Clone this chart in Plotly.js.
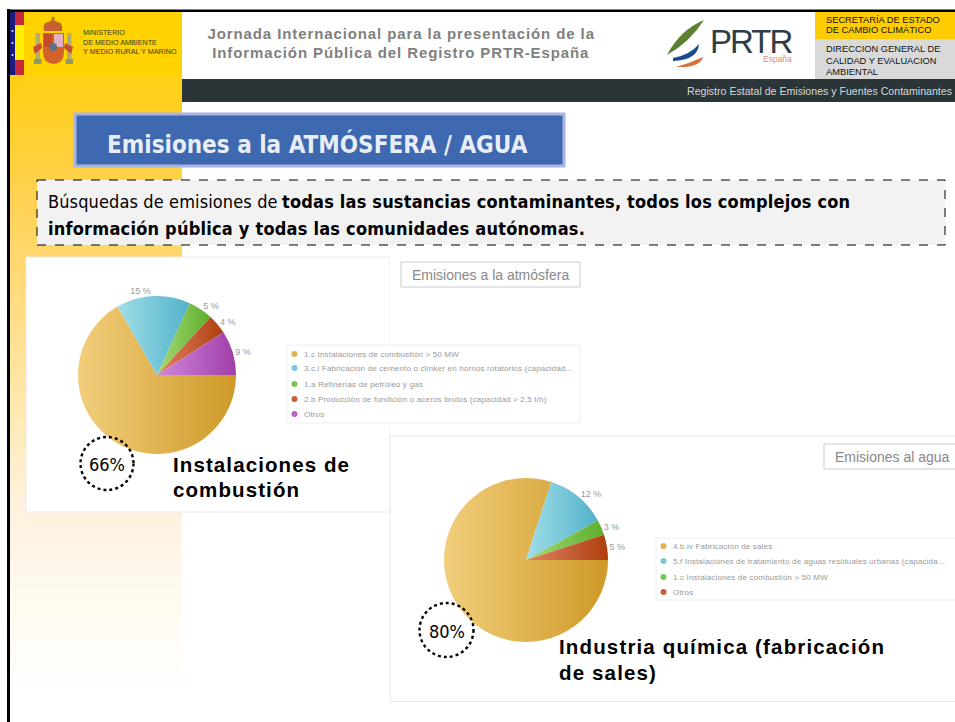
<!DOCTYPE html>
<html lang="es">
<head>
<meta charset="utf-8">
<title>Emisiones a la atmósfera / agua</title>
<script src="https://cdn.plot.ly/plotly-3.0.1.min.js"></script>
<style>html,body{margin:0;padding:0;background:#fff}#chart{width:955px;height:722px}</style>
</head>
<body>
<div id="chart"></div>
<script>
// ---------- data ----------
const airLabels = ["1.c Instalaciones de combustión > 50 MW","3.c.i Fabricación de cemento o clínker en hornos rotatorios (capacidad...","1.a Refinerías de petróleo y gas","2.b Producción de fundición o aceros brutos (capacidad > 2,5 t/h)","Otros"];
const airValues = [66, 15, 5, 4, 9];
const airColors = ["#E0B455","#78C8DA","#80C455","#C8603C","#B860C4"];
const airGradients = [["#F2CE7C","#CE9A28"],["#A0DEE8","#52B2CA"],["#A4DA74","#5EAE2E"],["#E28464","#AE3E0E"],["#D088DC","#A03EA8"]];

const waterLabels = ["4.b.iv Fabricación de sales","5.f Instalaciones de tratamiento de aguas residuales urbanas (capacida...","1.c Instalaciones de combustión > 50 MW","Otros"];
const waterValues = [80, 12, 3, 5];
const waterColors = ["#E0B455","#78C8DA","#80C455","#C8603C"];
const waterGradients = [["#F2CE7C","#CE9A28"],["#A0DEE8","#52B2CA"],["#A4DA74","#5EAE2E"],["#E28464","#AE3E0E"]];

const headerLines = ["Jornada Internacional para la presentación de la","Información Pública del Registro PRTR-España"];
const ministryLines = ["MINISTERIO","DE MEDIO AMBIENTE","Y MEDIO RURAL Y MARINO"];
const secretaryLines = ["SECRETARÍA DE ESTADO","DE CAMBIO CLIMÁTICO"];
const directionLines = ["DIRECCION GENERAL DE","CALIDAD Y EVALUACION","AMBIENTAL"];

// ---------- helpers: page pixels to paper coordinates ----------
const W = 955, H = 722;
const TAHOMA = "DejaVu Sans Condensed, Noto Sans, sans-serif";
const px = x => x / W, py = y => 1 - y / H;
const shapes = [], annotations = [], spacings = [];
function rect(x0,y0,x1,y1,fill,line,lw,dash,layer){
  shapes.push({type:"rect",xref:"paper",yref:"paper",x0:px(x0),x1:px(x1),y0:py(y0),y1:py(y1),layer:layer||"below",
    fillcolor:fill,line:{color:line||fill,width:line?(lw||1):0,dash:dash||"solid"}});
}
function circle(cx,cy,r,fill,line,lw,dash,layer){
  shapes.push({type:"circle",xref:"paper",yref:"paper",x0:px(cx-r),x1:px(cx+r),y0:py(cy+r),y1:py(cy-r),layer:layer||"above",
    fillcolor:fill,line:{color:line||fill,width:line?lw:0,dash:dash||"solid"}});
}
function path(points,fill,layer){
  const d = points.map(p => p[0] + p.slice(1).map((v,i)=> i%2===0 ? px(v) : py(v)).join(" ")).join(" ") + " Z";
  shapes.push({type:"path",xref:"paper",yref:"paper",path:d,fillcolor:fill,line:{width:0},layer:layer||"above"});
}
function text(x,y,t,size,color,opts){
  opts = opts||{};
  spacings.push(opts.spacing||0);
  annotations.push({xref:"paper",yref:"paper",x:px(x),y:py(y),text:t,showarrow:false,xanchor:opts.anchor||"left",yanchor:"middle",
    align:opts.anchor==="center"?"center":"left",borderpad:0,
    font:{family:opts.font||"Liberation Sans, Arial, sans-serif",size:size,color:color,weight:opts.weight||"normal"}});
}

// ---------- page background ----------
const gradStops = [[12,[255,210,0]],[100,[255,207,30]],[200,[255,210,85]],[300,[255,220,130]],[400,[255,232,175]],[500,[255,241,220]],[600,[255,251,240]],[700,[255,255,255]]];
function gradAt(y){
  for(let i=1;i<gradStops.length;i++){
    if(y<=gradStops[i][0]){
      const a=gradStops[i-1],b=gradStops[i],t=(y-a[0])/(b[0]-a[0]);
      return "rgb("+a[1].map((v,k)=>Math.round(v+(b[1][k]-v)*t)).join(",")+")";
    }
  }
  return "#fff";
}
for(let y=12;y<700;y+=6){ rect(10,y,182,y+6.5,gradAt(y)); }
rect(7,9,10,722,"#000");
rect(7,9.5,955,12,"#000");

// ---------- header ----------
rect(10,12,182,75,"#FFD200");
rect(10,12,15,75,"#1A1A80");
rect(15,12,24,25,"#C8283C");
rect(15,25,24,60,"#FFEE00");
rect(15,60,24,75,"#C8283C");
[31,43,55].forEach(y=>circle(12.5,y,1,"#EEE"));
// coat of arms
path([["M",44,31],["Q",42,22,49,22],["Q",53,18,57,22],["Q",63,22,62,31]],"#C8602C");
circle(53,18.5,2,"#B88A20");
path([["M",43,33],["L",64,33],["L",64,52],["Q",64,63,53.5,64],["Q",43,63,43,52]],"#D4602A");
rect(54,34,63,47,"#E2B0BE","","","","above");
rect(44,34,52,47,"#C84A28","","","","above");
circle(53,47,4,"#5E7288");
rect(35.5,33,40,60,"#B4AC70","","","","above");
rect(67,33,71.5,60,"#B4AC70","","","","above");
rect(34,59,41.5,64,"#8E9A60","","","","above");
rect(65.5,59,73,64,"#8E9A60","","","","above");
path([["M",33,47],["L",41,43],["L",42,48],["L",35,54]],"#C84A38");
path([["M",65,43],["L",73,47],["L",71,54],["L",64,48]],"#C84A38");
ministryLines.forEach((t,i)=>text(82,32.5+i*9.5,t,7.2,"#3A3A20"));

rect(182,79,955,102,"#2B3538");
text(953,91,"Registro Estatal de Emisiones y Fuentes Contaminantes",10.6,"#D4D8D8",{anchor:"right"});
headerLines.forEach((t,i)=>text(401,33+i*20,t,15,"#808080",{anchor:"center",weight:"bold",spacing:0.9}));

// PRTR logo
path([["M",667,55],["Q",680,30,704,20],["Q",690,42,667,55]],"#5A8030");
path([["M",673,58],["Q",690,55,699,44],["Q",698,60,673,61]],"#1C4A90");
path([["M",676,67],["Q",690,63,703,57],["Q",700,68,676,67]],"#D8703C");
text(709,41,"PRTR",33,"#2E3E46",{spacing:-2});
text(777,59,"España",8.5,"#E09070",{anchor:"center"});

// ministry boxes
rect(815,12,955,39,"#FFCC00");
rect(815,39,955,79,"#D9D9D9");
secretaryLines.forEach((t,i)=>text(825,19.5+i*11,t,9.3,"#111"));
directionLines.forEach((t,i)=>text(825,49.5+i*11,t,9.3,"#111"));

// ---------- title boxes ----------
rect(75,114,564,166,"#3E68B0","#A8B4E2",3);
text(105.5,144,"Emisiones a la ATMÓSFERA / AGUA",24,"#E8EEF6",{font:TAHOMA,weight:"bold"});

rect(37,180,945,245,"#F2F2F2","#000",1,"dash");
text(47,201,"Búsquedas de emisiones de",18,"#000",{font:TAHOMA,spacing:0.12});
text(281,201,"todas las sustancias contaminantes, todos los complejos con",18,"#000",{font:TAHOMA,weight:"bold",spacing:0.19});
text(47,229,"información pública y todas las comunidades autónomas.",18,"#000",{font:TAHOMA,weight:"bold",spacing:0.22});

// ---------- chart panels ----------
rect(26,257,390,512,"#FFF","#E8E8E8",1);
rect(390,257,581,436,"#FFF");
rect(390,436,960,701.5,"#FFF","#E8E8E8",1);

function panel(boxX0,boxY0,boxX1,boxY1,title,titleX,legX0,legY0,legX1,legY1,rows,labels,colors){
  rect(boxX0,boxY0,boxX1,boxY1,"#FFF","#CCCCCC",1);
  text(titleX,(boxY0+boxY1)/2,title,14,"#888");
  rect(legX0,legY0,legX1,legY1,"#FFF","#EEEEEE",1);
  labels.forEach((t,i)=>{
    circle(legX0+7.5,rows[i],3,colors[i]);
    text(legX0+16,rows[i],t,8,"#999",{spacing:0.17});
  });
}
panel(401,262,580,287,"Emisiones a la atmósfera",411,287,345,580,423,[354,368,384,399,414],airLabels,airColors);
panel(824,444,960,469,"Emisiones al agua",834,656,538,960,600,[546,561,577,592],waterLabels,waterColors);

// ---------- call-outs ----------
circle(107,463.5,26.5,"rgba(0,0,0,0)","#000",2.4,"dot");
text(107,465,"66%",18,"#000",{anchor:"center",font:TAHOMA});
text(172,464,"Instalaciones de",20.5,"#000",{weight:"bold",spacing:1.1});
text(172,490,"combustión",20.5,"#000",{weight:"bold",spacing:1.1});
circle(446.5,630,27,"rgba(0,0,0,0)","#000",2.4,"dot");
text(447,631,"80%",18,"#000",{anchor:"center",font:TAHOMA});
text(558,646,"Industria química (fabricación",20.5,"#000",{weight:"bold",spacing:1.15});
text(558,672,"de sales)",20.5,"#000",{weight:"bold",spacing:1.15});

// ---------- pies ----------
function pie(labels,values,colors,cx,cy,r){
  return {type:"pie",labels:labels,values:values,sort:false,direction:"clockwise",rotation:90,
    marker:{colors:colors,line:{width:0}},
    text:values.map((v,i)=>i===0?"":v+" %"),textinfo:"text",textposition:"outside",
    outsidetextfont:{family:"Liberation Sans, Arial, sans-serif",size:9,color:"#999"},
    hoverinfo:"label+value",automargin:false,showlegend:false,
    domain:{x:[px(cx-r),px(cx+r)],y:[py(cy+r),py(cy-r)]}};
}
const traces = [pie(airLabels,airValues,airColors,157,375,79),pie(waterLabels,waterValues,waterColors,526,560,82)];

const layout = {width:W,height:H,margin:{l:0,r:0,t:0,b:0,pad:0},paper_bgcolor:"#fff",plot_bgcolor:"#fff",
  showlegend:false,shapes:shapes,annotations:annotations,xaxis:{visible:false},yaxis:{visible:false}};

Plotly.newPlot("chart",traces,layout,{displayModeBar:false,staticPlot:true}).then(gd=>{
  const svg = gd.querySelector("svg.main-svg");
  const NS = "http://www.w3.org/2000/svg";
  const defs = document.createElementNS(NS,"defs");
  svg.insertBefore(defs,svg.firstChild);
  [airGradients,waterGradients].forEach((grads,t)=>{
    const traceEl = gd.querySelectorAll("g.trace")[t];
    traceEl.querySelectorAll("g.slice path.surface").forEach((p,i)=>{
      const id = "g"+t+"_"+i, lg = document.createElementNS(NS,"linearGradient");
      lg.setAttribute("id",id);
      grads[i].forEach((c,k)=>{
        const s = document.createElementNS(NS,"stop");
        s.setAttribute("offset",k);
        s.setAttribute("stop-color",c);
        lg.appendChild(s);
      });
      defs.appendChild(lg);
      p.style.fill = "url(#"+id+")";
    });
  });
  spacings.forEach((s,i)=>{
    if(!s) return;
    const el = gd.querySelector('.annotation[data-index="'+i+'"] text');
    if(el) el.style.letterSpacing = s+"px";
  });
});
</script>
</body>
</html>
